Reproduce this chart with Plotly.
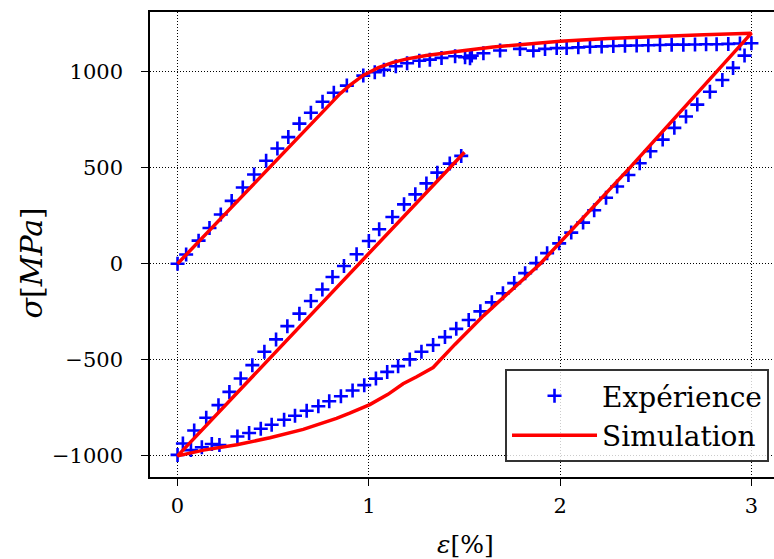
import plotly.graph_objects as go

# ---- Experimental data (strain %, stress MPa) ----
exp_strain = [
    0, 0.045, 0.11, 0.167, 0.226, 0.283, 0.341, 0.4, 0.463, 0.522, 0.579, 0.637, 0.697, 0.758, 0.817, 0.885,
    0.971, 1.031, 1.079, 1.141, 1.2, 1.264, 1.319, 1.38, 1.451, 1.503, 1.529, 1.538, 1.599, 1.686, 1.79, 1.86,
    1.921, 1.982, 2.034, 2.095, 2.156, 2.217, 2.278, 2.339, 2.4, 2.461, 2.522, 2.583, 2.644, 2.705, 2.763,
    2.818, 2.879, 2.94, 3.0,
    2.964, 2.904, 2.848, 2.783, 2.717, 2.658, 2.597, 2.536, 2.472, 2.416, 2.357, 2.298, 2.24, 2.178, 2.12,
    2.058, 1.995, 1.932, 1.875, 1.817, 1.76, 1.701, 1.643, 1.583, 1.522, 1.457, 1.398, 1.336, 1.275, 1.214,
    1.153, 1.096, 1.037, 0.976, 0.915, 0.854, 0.793, 0.736, 0.675, 0.614, 0.557, 0.492, 0.435, 0.374, 0.313,
    0.219, 0.179, 0.127, 0.07, 0,
    0.028, 0.087, 0.15, 0.214, 0.271, 0.33, 0.391, 0.454, 0.515, 0.574, 0.637, 0.697, 0.757, 0.81, 0.87,
    0.936, 1.0, 1.054, 1.123, 1.184, 1.243, 1.301, 1.358, 1.423, 1.483,
]
exp_stress = [
    0, 48, 120, 186, 256, 327, 397, 464, 536, 600, 659, 729, 786, 843, 890, 927,
    979, 997, 1009, 1028, 1043, 1056, 1062, 1071, 1080, 1075, 1069, 1083, 1095, 1110, 1118, 1109,
    1118, 1122, 1123, 1126, 1129, 1131, 1133, 1135, 1136, 1137, 1138, 1140, 1140, 1141, 1142,
    1142, 1144, 1146, 1147,
    1083, 1019, 956, 895, 828, 766, 707, 646, 585, 523, 462, 402, 343, 278, 214,
    162, 106, 55, 3, -49, -101, -154, -201, -248, -293, -339, -382, -423, -458, -498,
    -533, -563, -598, -632, -660, -690, -716, -742, -765, -791, -812, -838, -859, -881, -899,
    -944, -938, -955, -970, -995,
    -936, -868, -802, -736, -667, -597, -528, -458, -394, -325, -260, -194, -134, -69, -12,
    49, 118, 179, 243, 309, 361, 418, 474, 521, 561,
]

# ---- Simulation data ----
sim_strain = [
    0, 0.85, 0.9, 0.94, 0.97, 1.0, 1.05, 1.127, 1.2, 1.3, 1.4, 1.5, 1.65, 1.8, 2.0, 2.25, 2.5, 2.75, 3.0,
    2.365, 1.896, 1.8, 1.6, 1.45, 1.336, 1.25, 1.179, 1.1, 1.005, 0.9, 0.831, 0.657, 0.483, 0.31, 0.136, 0,
    0.5, 1.0, 1.5,
]
sim_stress = [
    0, 885, 928, 960, 980, 995, 1020, 1048, 1066, 1084, 1098, 1110, 1128, 1142, 1158, 1172, 1183, 1192, 1200,
    500, 0, -88, -270, -420, -540, -588, -625, -680, -733, -778, -805, -862, -906, -942, -970, -1000,
    -473, 52, 580,
]

x_ticks = [0, 1, 2, 3]
x_ticktext = ["0", "1", "2", "3"]
y_ticks = [-1000, -500, 0, 500, 1000]
y_ticktext = ["\u22121000", "\u2212500", "0", "500", "1000"]

FONT = "DejaVu Serif"

fig = go.Figure()
fig.add_trace(go.Scatter(
    x=exp_strain, y=exp_stress, mode="markers", name="Expérience",
    marker=dict(symbol="cross-thin", size=10, color="#0000ff",
                line=dict(color="#0000ff", width=2.6)),
))
fig.add_trace(go.Scatter(
    x=sim_strain, y=sim_stress, mode="lines", name="Simulation",
    line=dict(color="#ff0000", width=3.5),
))

axis_common = dict(
    showgrid=True, gridcolor="#000000", gridwidth=1, griddash="1px,2px",
    zeroline=False, showline=True, linecolor="#000000", linewidth=1.6,
    ticks="outside", ticklen=7, tickwidth=1.4, tickcolor="#000000",
    tickfont=dict(family=FONT, size=21, color="#000000"),
    automargin=False,
)

fig.update_layout(
    width=774, height=559, autosize=False,
    margin=dict(l=150, r=0, t=12, b=82),
    paper_bgcolor="white", plot_bgcolor="white",
    xaxis=dict(range=[-0.144, 3.118], tickvals=x_ticks, ticktext=x_ticktext,
               mirror=True, ticklabelstandoff=2, **axis_common),
    yaxis=dict(range=[-1110, 1310], tickvals=y_ticks, ticktext=y_ticktext,
               ticklabelstandoff=14, **axis_common),
    legend=dict(
        x=0.992, y=0.032, xanchor="right", yanchor="bottom",
        bgcolor="rgba(255,255,255,0.8)", bordercolor="#333333", borderwidth=2,
        font=dict(family=FONT, size=28, color="#000000"),
        itemwidth=85,
    ),
    showlegend=True,
    annotations=[
        dict(text="<i>ε</i>[%]", xref="paper", yref="paper", x=0.505, y=-0.146,
             xanchor="center", yanchor="middle", showarrow=False,
             font=dict(family=FONT, size=25, color="#000000")),
        dict(text="<i>σ</i>[<i>MPa</i>]", xref="paper", yref="paper", x=-0.19, y=0.46,
             xanchor="center", yanchor="middle", showarrow=False, textangle=-90,
             font=dict(family=FONT, size=30, color="#000000")),
    ],
)

fig.write_html("out.html", config={"displayModeBar": False})

# remove the default page margin so the figure sits at the window's top-left corner
with open("out.html", "r", encoding="utf-8") as f:
    html = f.read()
html = html.replace("<body>", '<body style="margin:0;padding:0;overflow:hidden">', 1)
with open("out.html", "w", encoding="utf-8") as f:
    f.write(html)
